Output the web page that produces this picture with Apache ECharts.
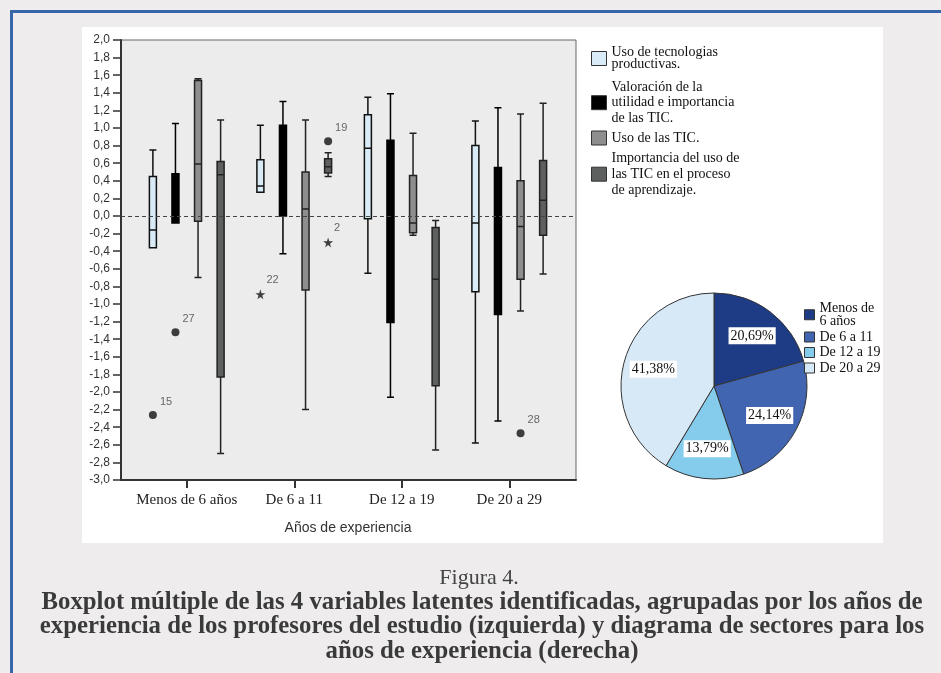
<!DOCTYPE html>
<html><head><meta charset="utf-8">
<script src="https://cdn.jsdelivr.net/npm/echarts@6/dist/echarts.min.js"></script>
<style>
html,body{margin:0;padding:0;width:941px;height:673px;overflow:hidden;background:#eeeced;}
#frame{position:absolute;left:10px;top:10px;width:980px;height:720px;border-left:3px solid #3767a8;border-top:3px solid #3767a8;}
#panel{position:absolute;left:82px;top:27px;width:801px;height:516px;background:#ffffff;}
#chart{position:absolute;left:0;top:0;width:941px;height:673px;}
</style></head><body>
<div id="frame"></div><div id="panel"></div><div id="chart"></div>
<script>
// ---------- DATA ----------
const categories = ['Menos de 6 años', 'De 6 a 11', 'De 12 a 19', 'De 20 a 29'];
const seriesNames = [
  'Uso de tecnologias productivas.',
  'Valoración de la utilidad e importancia de las TIC.',
  'Uso de las TIC.',
  'Importancia del uso de las TIC en el proceso de aprendizaje.'
];
const legendLabels = [
  'Uso de tecnologias\nproductivas.',
  'Valoración de la\nutilidad e importancia\nde las TIC.',
  'Uso de las TIC.',
  'Importancia del uso de\nlas TIC en el proceso\nde aprendizaje.'
];
// [min, Q1, median, Q3, max] per category
const usoTecnologias = [[-0.36, -0.36, -0.16, 0.45, 0.75], [0.27, 0.27, 0.34, 0.64, 1.03], [-0.65, -0.03, 0.77, 1.15, 1.35], [-2.58, -0.86, -0.08, 0.80, 1.08]];
const valoracionUtilidad = [[-0.08, -0.08, 0.20, 0.48, 1.05], [-0.43, 0.00, 0.55, 1.03, 1.30], [-2.06, -1.21, 0.10, 0.86, 1.39], [-2.33, -1.12, -0.20, 0.55, 1.23]];
const usoTIC = [[-0.70, -0.06, 0.59, 1.54, 1.56], [-2.20, -0.84, 0.08, 0.50, 1.09], [-0.22, -0.19, -0.08, 0.46, 0.94], [-1.08, -0.72, -0.12, 0.40, 1.16]];
const importanciaUso = [[-2.70, -1.83, 0.47, 0.62, 1.09], [0.45, 0.49, 0.56, 0.65, 0.72], [-2.66, -1.93, -0.72, -0.13, -0.05], [-0.66, -0.22, 0.18, 0.63, 1.28]];
// outliers: [category index, series index, value, case label]
const outliersCircle = [[0, 0, -2.26, '15'], [0, 1, -1.32, '27'], [1, 3, 0.85, '19'], [3, 2, -2.47, '28']];
const outliersStar = [[1, 0, -0.89, '22'], [1, 3, -0.30, '2']];
const yTicks = { min: -3, max: 2, step: 0.2 };
// pie
const pieNames = ['Menos de 6 años', 'De 6 a 11', 'De 12 a 19', 'De 20 a 29'];
const pieValues = [20.69, 24.14, 13.79, 41.38];
const caption1 = 'Figura 4.';
const caption2 = 'Boxplot múltiple de las 4 variables latentes identificadas, agrupadas por los años de\nexperiencia de los profesores del estudio (izquierda) y diagrama de sectores para los\naños de experiencia (derecha)';
const xTitle = 'Años de experiencia';

// ---------- STYLE ----------
const boxColors = ['#d8ebf7', '#000000', '#8e8e8e', '#5e6060'];
const boxBorders = ['#111111', '#000000', '#222222', '#222222'];
const pieColors = ['#1e3b85', '#4165b1', '#85cbec', '#d7e8f6'];
const serif = '"Liberation Serif", "Times New Roman", serif';
const sans = '"Liberation Sans", Arial, sans-serif';

const allBoxes = [usoTecnologias, valoracionUtilidad, usoTIC, importanciaUso];

// frame grid (0): 121..576 ; inner category grid (1): 133..563
const FL = 121, FR = 576, IL = 133, IR = 563;
const band = (IR - IL) / categories.length;
const xMin = -0.5 - (IL - FL) / band, xMax = categories.length - 0.5 + (FR - IR) / band;
// ECharts boxplot slot offset (in category units), from its layout rule
const avail = band * 0.8 - 2, gap = avail / 4 * 0.3, bw = (avail - gap * 3) / 4;
function slot(k) { return (bw / 2 - avail / 2 + k * (gap + bw)) / band; }

const starPath = 'path://M50,0 L61,35 L98,35 L68,57 L79,91 L50,70 L21,91 L32,57 L2,35 L39,35 Z';

const series = [];
allBoxes.forEach((d, k) => {
  series.push({
    type: 'boxplot', name: seriesNames[k], xAxisIndex: 1, yAxisIndex: 1,
    data: d, boxWidth: [7, 7], z: 3,
    itemStyle: { color: boxColors[k], borderColor: boxBorders[k], borderWidth: 1.5 },
    emphasis: { disabled: true }
  });
});
function outlierSeries(list, symbol, size) {
  return {
    type: 'scatter', xAxisIndex: 0, yAxisIndex: 0, symbol: symbol, symbolSize: size, z: 4,
    itemStyle: { color: '#111' }, silent: true,
    data: list.map(o => ({ value: [o[0] + slot(o[1]), o[2]], name: o[3] })),
    label: { show: true, formatter: p => p.name, position: [11, -9], align: 'left', verticalAlign: 'middle',
      fontFamily: sans, fontSize: 11, color: '#444' }
  };
}
series.push(outlierSeries(outliersCircle, 'circle', 8));
series.push(outlierSeries(outliersStar, starPath, 10));
series.push({
  type: 'line', xAxisIndex: 0, yAxisIndex: 0, data: [], z: 2, silent: true, symbol: 'none',
  markLine: { silent: true, symbol: 'none', label: { show: false },
    lineStyle: { type: [4, 3], color: '#444', width: 1 }, data: [{ yAxis: 0 }] }
});
series.push({
  type: 'pie', name: 'pie', center: [714, 386], radius: 93, startAngle: 90, clockwise: true,
  data: pieNames.map((n, i) => ({ name: n, value: pieValues[i], itemStyle: { color: pieColors[i] } })),
  itemStyle: { borderColor: '#333', borderWidth: 1 }, label: { show: false }, labelLine: { show: false },
  emphasis: { disabled: true }, silent: true
});
series.push({
  type: 'pie', name: 'pieLabels', center: [714, 386], radius: [27, 93], startAngle: 90, clockwise: true,
  data: pieNames.map((n, i) => ({ name: n, value: pieValues[i] })),
  itemStyle: { color: 'rgba(0,0,0,0)', borderWidth: 0 }, silent: true, emphasis: { disabled: true },
  label: { show: true, position: 'inside', formatter: p => p.value.toFixed(2).replace('.', ',') + '%',
    fontFamily: serif, fontSize: 14, color: '#111', backgroundColor: '#fff', padding: [2, 2, 1, 2] },
  labelLine: { show: false }, z: 5
});

const legendTops = [45.5, 79, 130.5, 150.5];
const legendLH = [12, 15.8, 15, 15.8];
const legends = seriesNames.map((n, k) => ({
  data: [{ name: n, itemStyle: { color: boxColors[k], borderColor: '#333', borderWidth: 1 } }],
  left: 591, top: legendTops[k], padding: 0, orient: 'vertical', icon: 'rect', itemWidth: 15, itemHeight: 14,
  selectedMode: false, formatter: () => legendLabels[k],
  textStyle: { fontFamily: serif, fontSize: 14, color: '#111', lineHeight: legendLH[k] }
}));
legends.push({
  data: pieNames.map((n, i) => ({ name: n, itemStyle: { color: pieColors[i], borderColor: '#333', borderWidth: 1 } })),
  left: 804, top: 301, padding: 0, orient: 'vertical', icon: 'rect', itemWidth: 10, itemHeight: 10, itemGap: 1.5,
  selectedMode: false, formatter: n => n === 'Menos de 6 años' ? 'Menos de\n6 años' : n,
  textStyle: { fontFamily: serif, fontSize: 14, color: '#111', lineHeight: 13.5 }
});

const option = {
  animation: false,
  backgroundColor: 'transparent',
  title: [
    { text: caption1, left: 479, top: 567, padding: 0, textAlign: 'center',
      textStyle: { fontFamily: serif, fontWeight: 'normal', fontSize: 22, color: '#444' } },
    { text: caption2, left: 482, top: 590, padding: 0, textAlign: 'center',
      textStyle: { fontFamily: serif, fontWeight: 'bold', fontSize: 24.8, lineHeight: 24.5, color: '#3a3a3a' } }
  ],
  legend: legends,
  grid: [
    { left: FL, right: 941 - FR, top: 40, bottom: 673 - 480, show: true, backgroundColor: '#ececec', borderColor: '#666', borderWidth: 1 },
    { left: IL, right: 941 - IR, top: 40, bottom: 673 - 480, show: false }
  ],
  xAxis: [
    { type: 'value', gridIndex: 0, min: xMin, max: xMax, axisLine: { show: true, onZero: false, lineStyle: { color: '#333', width: 2 } },
      axisTick: { show: false }, axisLabel: { show: false }, splitLine: { show: false } },
    { type: 'category', gridIndex: 1, data: categories, axisLine: { show: true, onZero: false, lineStyle: { opacity: 0 } },
      axisTick: { show: true, alignWithLabel: true, length: 8, lineStyle: { color: '#333', width: 2, opacity: 1 } },
      axisLabel: { interval: 0, margin: 13, fontFamily: serif, fontSize: 15, color: '#222' },
      name: xTitle, nameLocation: 'middle', nameGap: 41, nameTextStyle: { fontFamily: sans, fontSize: 14, color: '#333' } }
  ],
  yAxis: [
    { type: 'value', gridIndex: 0, min: yTicks.min, max: yTicks.max, interval: yTicks.step,
      axisLine: { show: true, onZero: false, lineStyle: { color: '#333', width: 2 } },
      axisTick: { show: true, length: 8, lineStyle: { color: '#333', width: 1.5 } },
      axisLabel: { margin: 11, fontFamily: sans, fontSize: 12, color: '#333', formatter: v => v.toFixed(1).replace('.', ',') },
      splitLine: { show: false } },
    { type: 'value', gridIndex: 1, min: yTicks.min, max: yTicks.max, show: false, axisLine: { onZero: false } }
  ],
  series: series
};
const chart = echarts.init(document.getElementById('chart'), null, { renderer: 'canvas' });
chart.setOption(option);
</script>
</body></html>
